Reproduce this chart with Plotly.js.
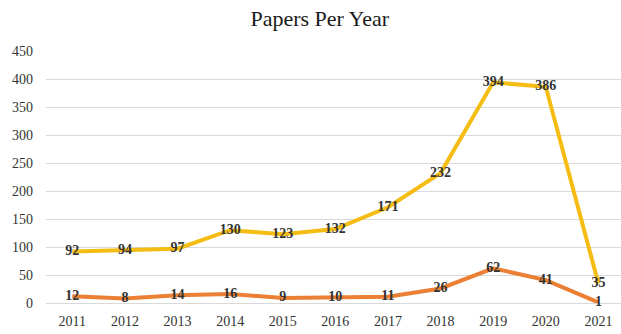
<!DOCTYPE html>
<html>
<head>
<meta charset="utf-8">
<script src="https://cdn.plot.ly/plotly-3.0.1.min.js"></script>
<style>html,body{margin:0;padding:0;background:#fff;}#chart{width:621px;height:334px;}</style>
</head>
<body>
<div id="chart"></div>
<script>
var years = ['2011','2012','2013','2014','2015','2016','2017','2018','2019','2020','2021'];
var seriesA = [92, 94, 97, 130, 123, 132, 171, 232, 394, 386, 35];
var seriesB = [12, 8, 14, 16, 9, 10, 11, 26, 62, 41, 1];
var yTicks = [0, 50, 100, 150, 200, 250, 300, 350, 400, 450];

var serif = 'Liberation Serif';
var labelFont = {family: serif, size: 14, color: '#333333', weight: 'bold'};

var traces = [
  {
    x: years, y: seriesA, type: 'scatter', mode: 'lines+text',
    line: {color: '#F5BD13', width: 4},
    text: seriesA.map(String), textposition: 'middle center',
    textfont: labelFont, cliponaxis: false, hoverinfo: 'none'
  },
  {
    x: years, y: seriesB, type: 'scatter', mode: 'lines+text',
    line: {color: '#EB7F34', width: 4},
    text: seriesB.map(String), textposition: 'middle center',
    textfont: labelFont, cliponaxis: false, hoverinfo: 'none'
  }
];

var layout = {
  width: 621, height: 334,
  margin: {l: 46, r: 0, t: 51, b: 31},
  paper_bgcolor: '#ffffff', plot_bgcolor: '#ffffff',
  showlegend: false,
  font: {family: serif},
  title: {
    text: 'Papers Per Year',
    font: {family: serif, size: 22, color: '#1a1a1a'},
    x: 0.515, xanchor: 'center', y: 0.945, yanchor: 'middle'
  },
  xaxis: {
    type: 'category', range: [-0.5, 10.43],
    showgrid: false, zeroline: false, showline: false, ticks: '',
    ticklabelstandoff: 8,
    tickfont: {family: serif, size: 14, color: '#333333'},
    automargin: false
  },
  yaxis: {
    range: [0, 450], tickvals: yTicks, ticktext: yTicks.map(String),
    showgrid: true, gridcolor: '#d9d9d9', gridwidth: 1,
    zeroline: true, zerolinecolor: '#d9d9d9', zerolinewidth: 1,
    showline: false, ticks: '',
    ticklabelstandoff: 12,
    tickfont: {family: serif, size: 14, color: '#333333'},
    automargin: false
  }
};

Plotly.newPlot('chart', traces, layout, {staticPlot: true, displayModeBar: false});
</script>
</body>
</html>
